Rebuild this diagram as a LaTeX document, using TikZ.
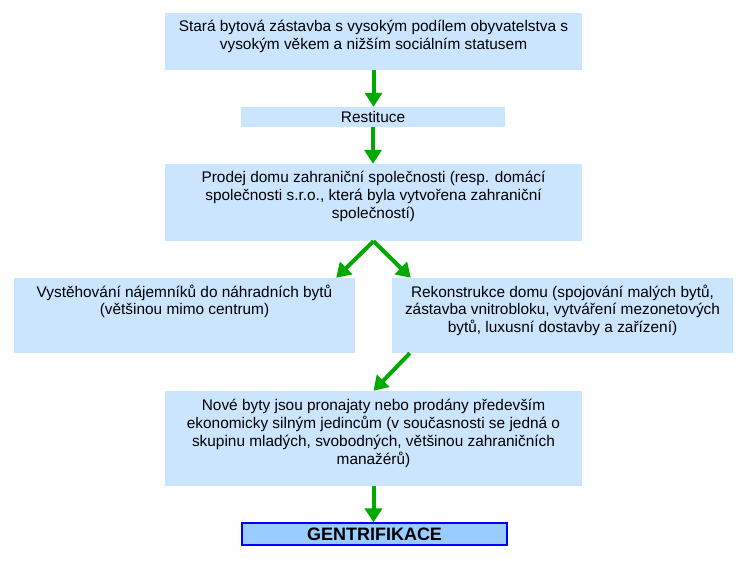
\documentclass[tikz,border=0pt]{standalone}
\usepackage{fontspec}
\setmainfont{Liberation Sans}
\usetikzlibrary{arrows.meta, positioning}
\definecolor{stageblue}{RGB}{204, 229, 255}
\definecolor{finalblue}{RGB}{153, 204, 255}
\definecolor{flowgreen}{RGB}{0, 170, 0}
\newcommand{\stagetext}[3]{\parbox[c][#1][t]{#2}{\centering\rule{0pt}{19pt}#3\par}}

\begin{document}
\begin{tikzpicture}[
  x=1pt, y=-1pt,
  stage/.style={fill=stageblue, inner sep=0pt, font=\fontsize{15.4}{18}\selectfont},
  final/.style={draw=blue, line width=1.2pt, fill=finalblue, minimum width=265pt, minimum height=22pt, inner sep=0pt, font=\fontsize{18}{20}\selectfont\bfseries},
  flow/.style={draw=flowgreen, line width=4pt, -{Triangle[width=17pt, length=14pt]}}
]
  \useasboundingbox (0,0) rectangle (747,561);
  \node[stage] (old) at (373.5, 41.5) {\stagetext{57pt}{417pt}{Stará bytová zástavba s vysokým podílem obyvatelstva s\\vysokým věkem a nižším sociálním statusem}};
  \node[stage, minimum width=264pt, minimum height=20pt] (rest) at (373, 117) {Restituce};
  \node[stage] (sale) at (373.5, 202.5) {\stagetext{77pt}{417pt}{Prodej domu zahraniční společnosti (resp. domácí\\společnosti s.r.o., která byla vytvořena zahraniční\\společností)}};
  \node[stage] (move) at (184.5, 315.5) {\stagetext{75pt}{341pt}{Vystěhování nájemníků do náhradních bytů\\(většinou mimo centrum)}};
  \node[stage] (rebuild) at (562.5, 315.5) {\stagetext{75pt}{341pt}{Rekonstrukce domu (spojování malých bytů,\\zástavba vnitrobloku, vytváření mezonetových\\bytů, luxusní dostavby a zařízení)}};
  \node[stage] (newflats) at (373.5, 438.5) {\stagetext{95pt}{417pt}{Nové byty jsou pronajaty nebo prodány především\\ekonomicky silným jedincům (v současnosti se jedná o\\skupinu mladých, svobodných, většinou zahraničních\\manažérů)}};
  \node[final] (gent) at (374.5, 534) {GENTRIFIKACE};

  % arrows
  \draw[flow] (old.south) -- (old.south |- rest.north);
  \draw[flow] (rest.south) -- (rest.south |- sale.north);
  \draw[flow] (sale.south) -- ([xshift=-19pt]move.north east);
  \draw[flow] (sale.south) -- ([xshift=19pt]rebuild.north west);
  \draw[flow] ([xshift=18pt]rebuild.south west) -- (newflats.north);
  \draw[flow] (newflats.south) -- (newflats.south |- gent.north);
\end{tikzpicture}
\end{document}
